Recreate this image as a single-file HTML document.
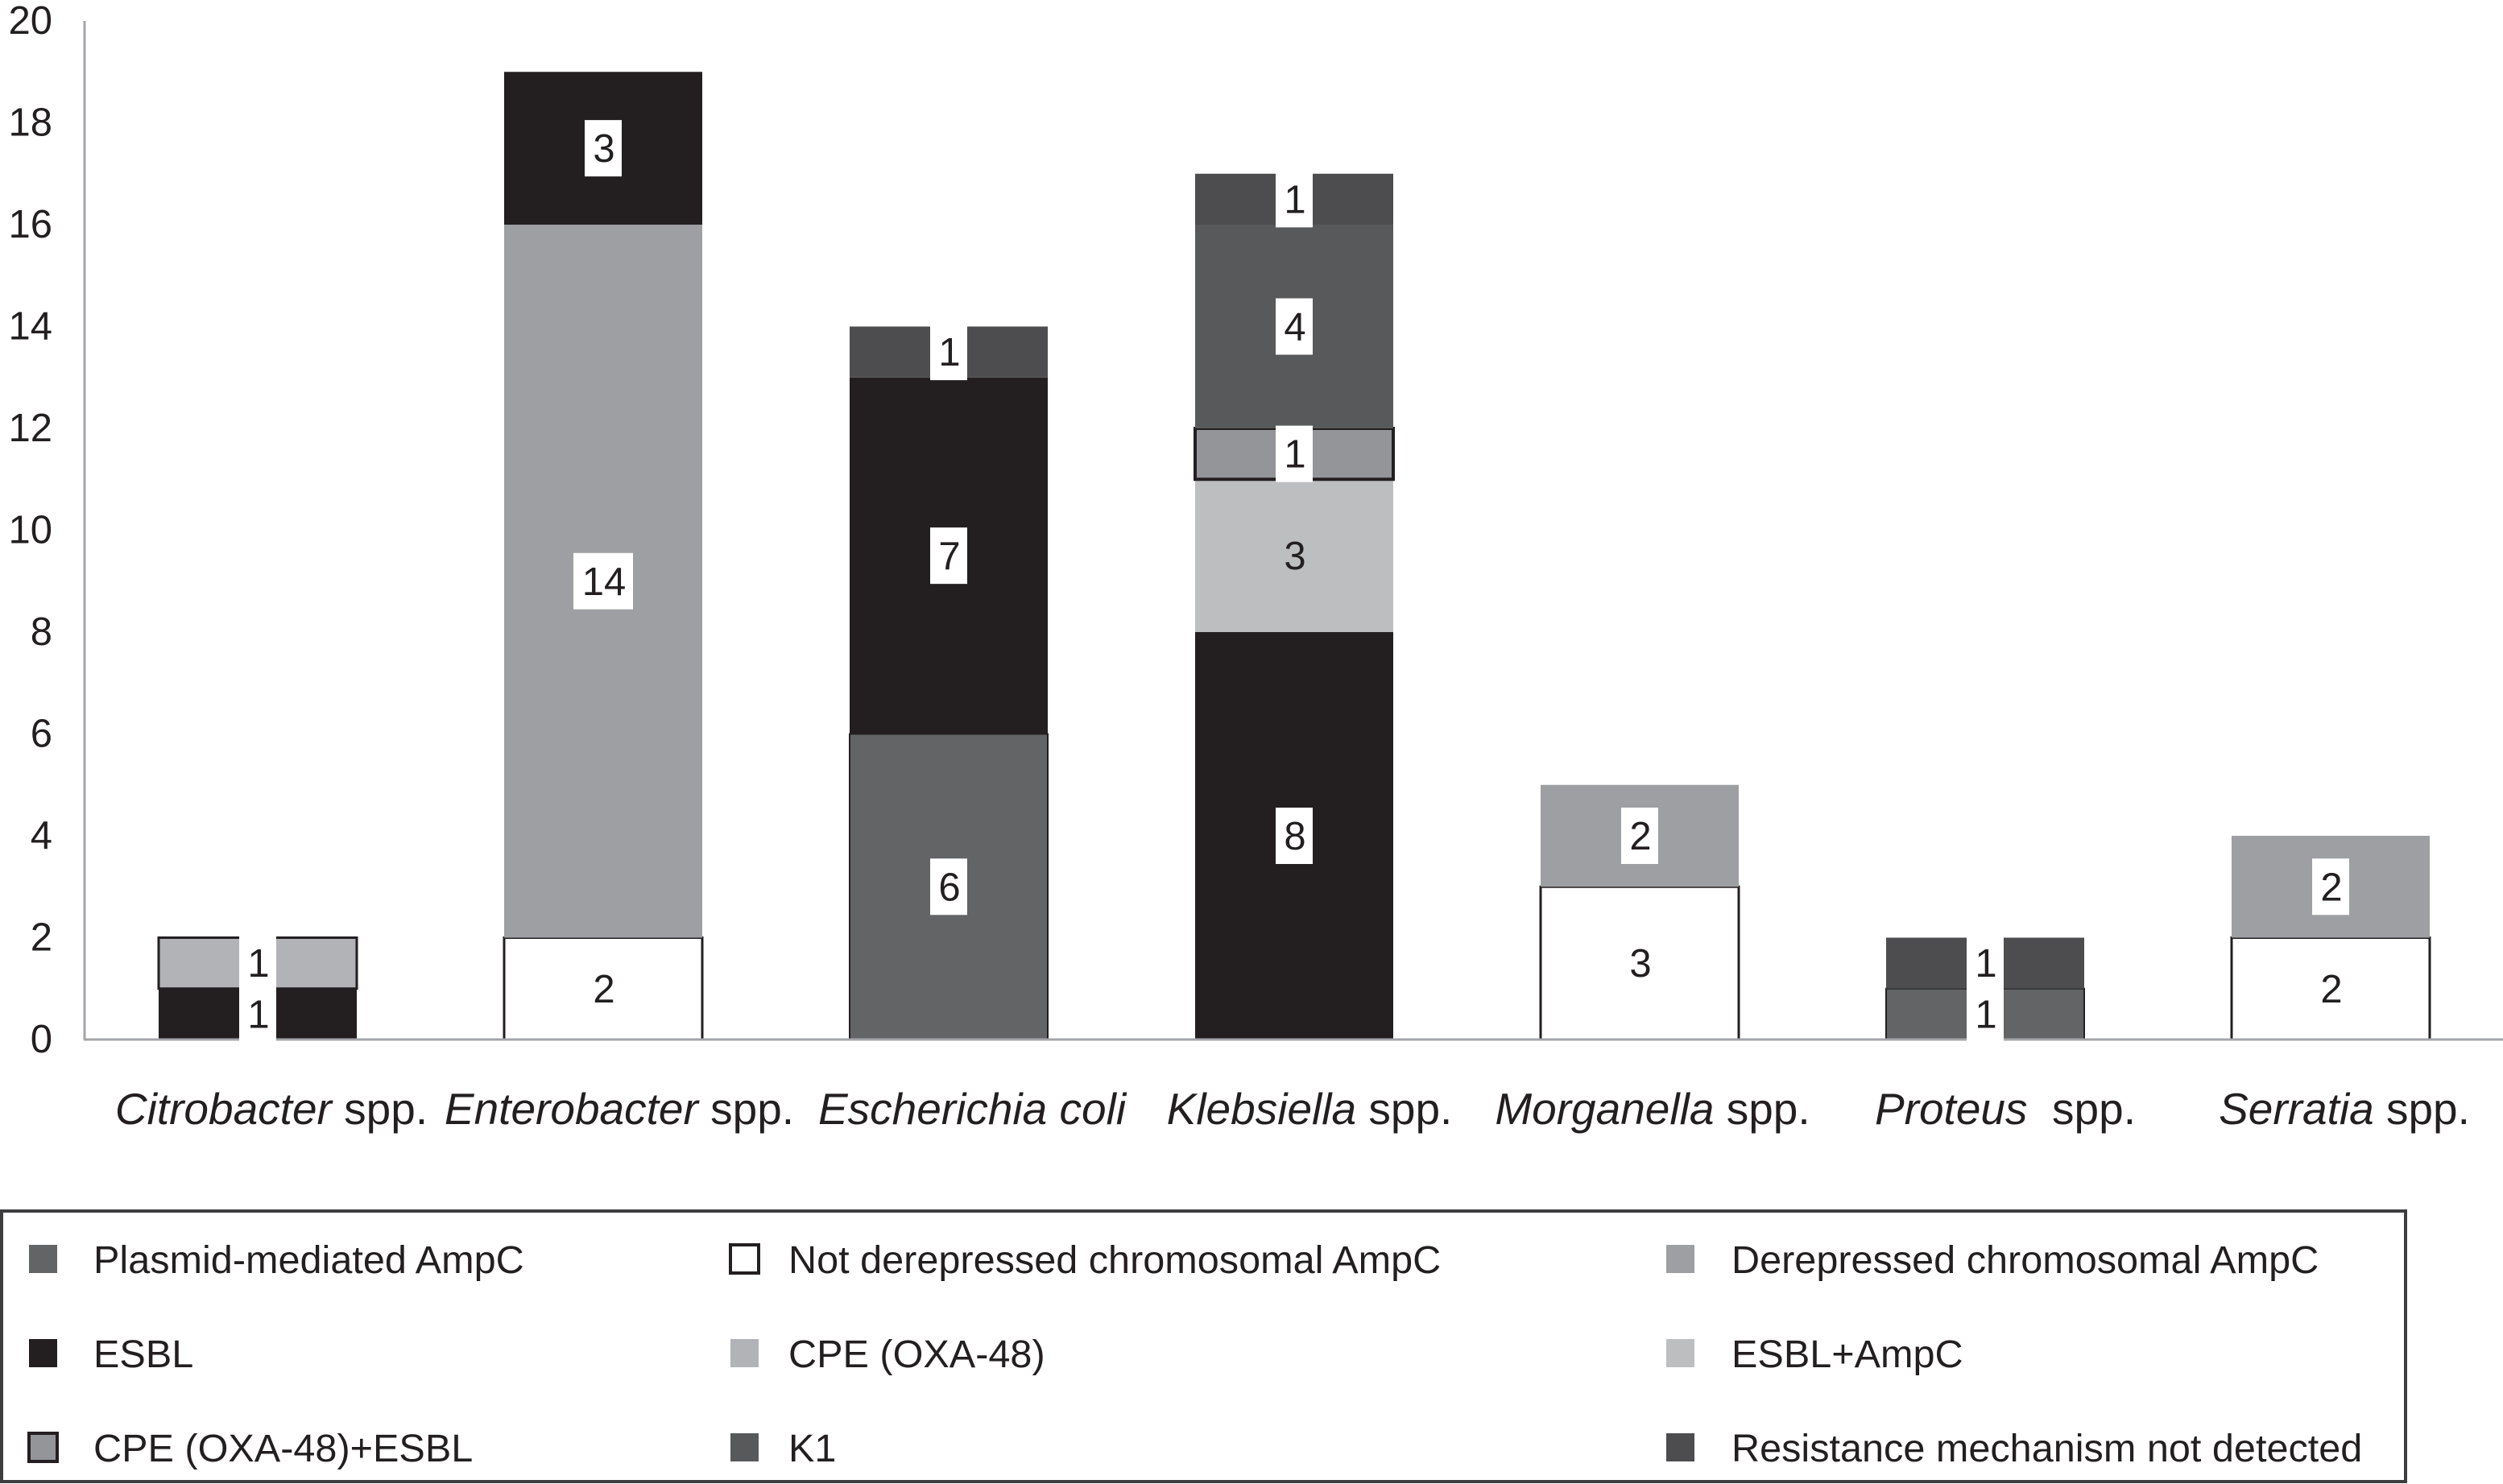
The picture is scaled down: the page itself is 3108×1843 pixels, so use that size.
<!DOCTYPE html>
<html lang="en">
<head>
<meta charset="utf-8">
<title>Resistance mechanisms by genus</title>
<style>
  html, body { margin: 0; padding: 0; background: #fff; width: 3108px; height: 1843px; overflow: hidden; }
  svg { display: block; font-family: "Liberation Sans", sans-serif; }
  text { fill: #231f20; white-space: pre; }
</style>
</head>
<body>
<svg id="chart" xmlns="http://www.w3.org/2000/svg" width="3108" height="1843" viewBox="0 0 3108 1843"></svg>
<script>
// ---- Data ----
const categories = ["Citrobacter", "Enterobacter", "Escherichia coli", "Klebsiella", "Morganella", "Proteus", "Serratia"];
const categorySuffix = [" spp.", " spp.", "", " spp.", " spp.", "  spp.", " spp."];
const seriesNames = ["Plasmid-mediated AmpC", "Not derepressed chromosomal AmpC", "Derepressed chromosomal AmpC", "ESBL", "CPE (OXA-48)", "ESBL+AmpC", "CPE (OXA-48)+ESBL", "K1", "Resistance mechanism not detected"];
const plasmidAmpC       = [0, 0, 6, 0, 0, 1, 0];
const notDerepressed    = [0, 2, 0, 0, 3, 0, 2];
const derepressed       = [0, 14, 0, 0, 2, 0, 2];
const esbl              = [1, 3, 7, 8, 0, 0, 0];
const cpe               = [1, 0, 0, 0, 0, 0, 0];
const esblAmpC          = [0, 0, 0, 3, 0, 0, 0];
const cpeEsbl           = [0, 0, 0, 1, 0, 0, 0];
const k1                = [0, 0, 0, 4, 0, 0, 0];
const notDetected       = [0, 0, 1, 1, 0, 1, 0];
const seriesValues = [plasmidAmpC, notDerepressed, derepressed, esbl, cpe, esblAmpC, cpeEsbl, k1, notDetected];
const yTicks = [0, 2, 4, 6, 8, 10, 12, 14, 16, 18, 20];

// ---- Styling ----
const fills   = ["#636466", "#ffffff", "#9d9fa2", "#231f20", "#b1b3b6", "#bcbec0", "#939598", "#58595b", "#4d4d4f"];
const borders = [2, 3, 0, 0, 3, 0, 4, 0, 0];
const swatchBorders = [0, 4, 0, 0, 0, 0, 4, 0, 0];
const boxed   = [true, false, true, true, true, false, true, true, true];
const categoryLabelNudge = [17, 20, 29, 19, 16, 25, 17];

// ---- Scales ----
const baseY = 1291, unitY = 63.25, firstX = 320, stepX = 429, barW = 246;
function yScale(v) { return baseY - v * unitY; }
function xScale(i) { return firstX + i * stepX; }

const svgNS = "http://www.w3.org/2000/svg";
const root = document.getElementById("chart");
function make(tag, attrs, parent) {
  const el = document.createElementNS(svgNS, tag);
  for (const k in attrs) el.setAttribute(k, attrs[k]);
  (parent || root).appendChild(el);
  return el;
}
function slug(s) { return s.toLowerCase().replace(/[^a-z0-9]+/g, "-").replace(/^-|-$/g, ""); }

yTicks.forEach(function (t) {
  const tick = make("text", { x: 65, y: yScale(t) + 16, "text-anchor": "end", "font-size": 49 });
  tick.textContent = String(t);
  
  
});

// ---- Bars ----
const labelsLayer = [];
categories.forEach(function (cat, i) {
  let cum = 0;
  const cx = xScale(i);
  seriesValues.forEach(function (vals, s) {
    const v = vals[i];
    if (!v) return;
    const top = yScale(cum + v), bottom = yScale(cum);
    const seg = make("rect", { x: cx - barW / 2, y: top, width: barW, height: bottom - top, fill: fills[s] });
    
    
    if (borders[s]) {
      seg.setAttribute("stroke", "#231f20");
      seg.setAttribute("stroke-width", borders[s]);
    }
    labelsLayer.push({ cat: cat, s: s, v: v, cx: cx, cy: (top + bottom) / 2 });
    cum += v;
  });
});

// ---- Axes (drawn over the bars, under the value labels) ----
const yAxis = make("line", { x1: 105, y1: yScale(20), x2: 105, y2: baseY, stroke: "#a3a5a8", "stroke-width": 3 });


const xAxis = make("line", { x1: 104, y1: baseY, x2: 3108, y2: baseY, stroke: "#a3a5a8", "stroke-width": 3 });



labelsLayer.forEach(function (l) {
  const text = String(l.v);
  if (boxed[l.s]) {
    const w = text.length > 1 ? 74 : 46;
    const box = make("rect", { x: l.cx - w / 2, y: l.cy - 35, width: w, height: 70, fill: "#ffffff" });
    
    
  }
  const lab = make("text", { x: l.cx + 1, y: l.cy + 17, "text-anchor": "middle", "font-size": 49 });
  lab.textContent = text;
  
  
});

// ---- Category labels ----
categories.forEach(function (cat, i) {
  const t = make("text", { x: xScale(i) + categoryLabelNudge[i], y: 1396, "text-anchor": "middle", "font-size": 55 });
  
  
  const it = make("tspan", { "font-style": "italic" }, t);
  it.textContent = cat;
  if (categorySuffix[i]) {
    const sp = make("tspan", {}, t);
    sp.textContent = categorySuffix[i];
  }
});

// ---- Legend ----
const legendFrame = make("rect", { x: 2, y: 1504, width: 2985, height: 336, fill: "#ffffff", stroke: "#3d3d3f", "stroke-width": 4 });


const legendSwatchX = [36, 907, 2069];
const legendTextX = [116, 979, 2150];
const legendRowY = [1581, 1698, 1815];
seriesNames.forEach(function (name, s) {
  const col = s % 3, row = Math.floor(s / 3);
  const sw = make("rect", { x: legendSwatchX[col], y: legendRowY[row] - 35, width: 35, height: 35, fill: fills[s] });
  
  
  if (swatchBorders[s]) {
    sw.setAttribute("stroke", "#231f20");
    sw.setAttribute("stroke-width", swatchBorders[s]);
  }
  const tx = make("text", { x: legendTextX[col], y: legendRowY[row], "font-size": 48.6 });
  tx.textContent = name;
  
  
});
</script>
</body>
</html>
